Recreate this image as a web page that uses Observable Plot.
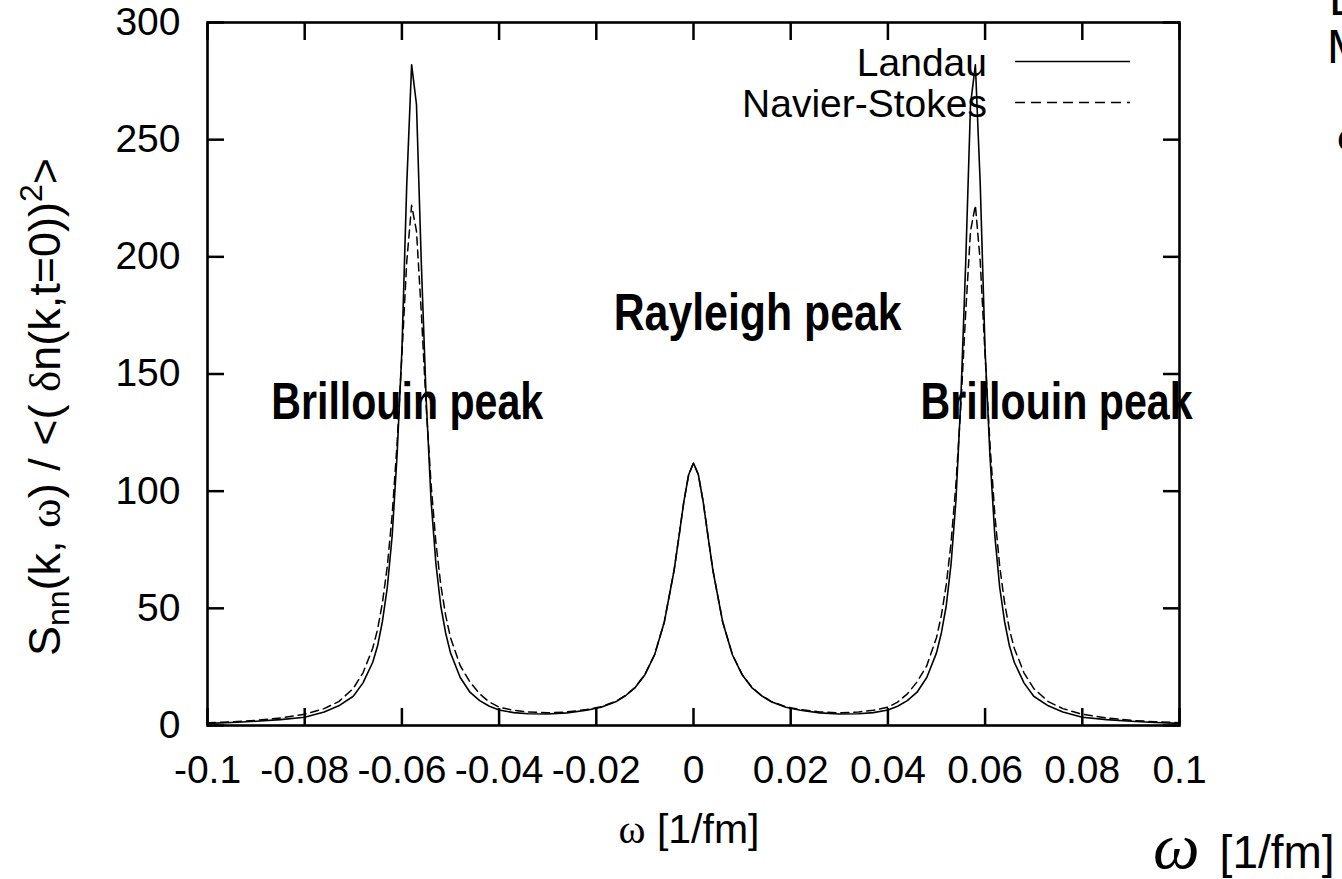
<!DOCTYPE html>
<html>
<head>
<meta charset="utf-8">
<script src="https://cdn.jsdelivr.net/npm/d3@7"></script>
<script src="https://cdn.jsdelivr.net/npm/@observablehq/plot@0.6"></script>
<style>
  html, body { margin: 0; padding: 0; background: #fff; }
  #chart { position: relative; width: 1342px; height: 879px; overflow: hidden; background: #fff; }
</style>
</head>
<body>
<div id="chart"></div>
<script>
// ω sample points [1/fm]
const omega = [
  -0.100, -0.095, -0.090, -0.085, -0.080, -0.076, -0.073, -0.070, -0.068, -0.066,
  -0.065, -0.064, -0.063, -0.062, -0.061, -0.060, -0.059, -0.058, -0.057, -0.056,
  -0.055, -0.054, -0.053, -0.052, -0.051, -0.050, -0.048, -0.046, -0.044, -0.042,
  -0.040, -0.037, -0.034, -0.030, -0.026, -0.022, -0.019, -0.016, -0.014, -0.012,
  -0.010, -0.008, -0.006, -0.004, -0.003, -0.002, -0.001, 0.000,
  0.001, 0.002, 0.003, 0.004, 0.006, 0.008, 0.010, 0.012, 0.014, 0.016,
  0.019, 0.022, 0.026, 0.030, 0.034, 0.037, 0.040, 0.042, 0.044, 0.046,
  0.048, 0.050, 0.051, 0.052, 0.053, 0.054, 0.055, 0.056, 0.057, 0.058,
  0.059, 0.060, 0.061, 0.062, 0.063, 0.064, 0.065, 0.066, 0.068, 0.070,
  0.073, 0.076, 0.080, 0.085, 0.090, 0.095, 0.100
];
// Landau (solid)
const landau = [
  0.9, 1.3, 1.8, 2.5, 3.5, 5.8, 8.4, 12.5, 18.2, 27,
  34, 44.5, 59, 81, 115, 160, 231, 282, 265, 197,
  139, 96, 69, 51, 39.5, 31, 20.5, 14.2, 10.6, 8.2,
  6.6, 5.5, 5.0, 4.9, 5.4, 6.5, 7.8, 10.1, 12.7, 16.2,
  21.7, 30.2, 44.2, 66.1, 80.5, 95.3, 107, 112,
  107, 95.3, 80.5, 66.1, 44.2, 30.2, 21.7, 16.2, 12.7, 10.1,
  7.8, 6.5, 5.4, 4.9, 5.0, 5.5, 6.6, 8.2, 10.6, 14.2,
  20.5, 31, 39.5, 51, 69, 96, 139, 197, 265, 282,
  231, 160, 115, 81, 59, 44.5, 34, 27, 18.2, 12.5,
  8.4, 5.8, 3.5, 2.5, 1.8, 1.3, 0.9
];
// Navier-Stokes (dashed)
const navierStokes = [
  1.2, 1.6, 2.2, 3.2, 4.8, 7.2, 10.2, 15.8, 22.5, 33,
  41, 52.5, 68, 90, 120, 158, 198, 222, 211, 176,
  136, 103, 78, 60, 47, 37.5, 25.5, 18.6, 13.5, 10.0,
  7.8, 6.5, 5.8, 5.4, 5.8, 6.8, 8.0, 10.3, 12.8, 16.3,
  21.8, 30.3, 44.3, 66.2, 80.6, 95.4, 107, 112,
  107, 95.4, 80.6, 66.2, 44.3, 30.3, 21.8, 16.3, 12.8, 10.3,
  8.0, 6.8, 5.8, 5.4, 5.8, 6.5, 7.8, 10.0, 13.5, 18.6,
  25.5, 37.5, 47, 60, 78, 103, 136, 176, 211, 222,
  198, 158, 120, 90, 68, 52.5, 41, 33, 22.5, 15.8,
  10.2, 7.2, 4.8, 3.2, 2.2, 1.6, 1.2
];
const xTicks = [-0.1, -0.08, -0.06, -0.04, -0.02, 0, 0.02, 0.04, 0.06, 0.08, 0.1];
const xTickLabels = ["-0.1", "-0.08", "-0.06", "-0.04", "-0.02", "0", "0.02", "0.04", "0.06", "0.08", "0.1"];
const yTicks = [0, 50, 100, 150, 200, 250, 300];
const yTickLabels = ["0", "50", "100", "150", "200", "250", "300"];
const seriesNames = ["Landau", "Navier-Stokes"];
const annotationLabels = ["Brillouin peak", "Rayleigh peak", "Brillouin peak"];
const annotationX = [-0.0589, 0.0132, 0.0747];
const annotationY = [138, 176, 138];
const annotationWidths = [272, 288, 272];

const sans = "'Liberation Sans', Arial, Helvetica, sans-serif";
const serif = "'Liberation Serif', 'DejaVu Serif', serif";

const landauData = omega.map((w, i) => ({w, v: landau[i]}));
const nsData = omega.map((w, i) => ({w, v: navierStokes[i]}));
const annotations = annotationLabels.map((label, i) => ({label, x: annotationX[i], y: annotationY[i]}));

const plot = Plot.plot({
  width: 1342,
  height: 879,
  marginLeft: 207,
  marginRight: 163,
  marginTop: 22,
  marginBottom: 154,
  style: {fontFamily: sans, fontSize: "39px", color: "#000", background: "#fff", overflow: "visible"},
  x: {domain: [-0.1, 0.1]},
  y: {domain: [0, 300]},
  marks: [
    Plot.line(nsData, {x: "w", y: "v", stroke: "#000", strokeWidth: 1.5, strokeDasharray: "8,5"}),
    Plot.line(landauData, {x: "w", y: "v", stroke: "#000", strokeWidth: 1.6}),
    Plot.axisX(xTicks, {anchor: "bottom", tickSize: 0, tickPadding: 30, tickFormat: d => xTickLabels[xTicks.indexOf(d)], label: null, fontSize: 39}),
    Plot.axisX(xTicks, {anchor: "bottom", tickSize: -17, tickFormat: () => "", label: null, strokeWidth: 2.5}),
    Plot.axisX(xTicks, {anchor: "top", tickSize: -17, tickFormat: () => "", label: null, strokeWidth: 2.5}),
    Plot.axisY(yTicks, {anchor: "left", tickSize: 0, tickPadding: 27, tickFormat: d => yTickLabels[yTicks.indexOf(d)], label: null, fontSize: 39}),
    Plot.axisY(yTicks, {anchor: "left", tickSize: -17, tickFormat: () => "", label: null, strokeWidth: 2.5}),
    Plot.axisY(yTicks, {anchor: "right", tickSize: -17, tickFormat: () => "", label: null, strokeWidth: 2.5}),
    Plot.frame({stroke: "#000", strokeWidth: 2.6}),
    Plot.text(annotations, {x: "x", y: "y", text: "label", fontFamily: sans, fontWeight: "bold", fontSize: 52, fill: "#000"})
  ]
});

document.getElementById("chart").appendChild(plot);

const svg = d3.select(plot);

// condense the annotation labels to the reference's narrow bold face
svg.selectAll('g[aria-label="text"] text').each(function(d, i) {
  d3.select(this).attr("textLength", annotationWidths[i]).attr("lengthAdjust", "spacingAndGlyphs");
});

// Legend
const legendRows = [{name: seriesNames[0], y: 61.5, dash: null}, {name: seriesNames[1], y: 102.5, dash: "10,6"}];
legendRows.forEach(r => {
  svg.append("text").attr("x", 987).attr("y", r.y + 14).attr("text-anchor", "end")
    .attr("font-family", sans).attr("font-size", 39).attr("fill", "#000").text(r.name);
  svg.append("line").attr("x1", 1015).attr("x2", 1130).attr("y1", r.y).attr("y2", r.y)
    .attr("stroke", "#000").attr("stroke-width", 1.5).attr("stroke-dasharray", r.dash);
});

// x axis label
const xl = svg.append("text").attr("x", 689).attr("y", 843).attr("text-anchor", "middle")
  .attr("font-family", sans).attr("font-size", 41).attr("fill", "#000");
xl.append("tspan").attr("font-family", serif).text("ω");
xl.append("tspan").text(" [1/fm]");

// y axis label
const yl = svg.append("text").attr("transform", "translate(60,407) rotate(-90)").attr("text-anchor", "middle")
  .attr("font-family", sans).attr("font-size", 45).attr("fill", "#000");
yl.append("tspan").text("S");
yl.append("tspan").attr("font-size", 32).attr("dy", 9).text("nn");
yl.append("tspan").attr("dy", -9).text("(k, ");
yl.append("tspan").attr("font-family", serif).text("ω");
yl.append("tspan").text(") / <( ");
yl.append("tspan").attr("font-family", serif).text("δ");
yl.append("tspan").text("n(k,t=0))");
yl.append("tspan").attr("font-size", 32).attr("dy", -18).text("2");
yl.append("tspan").attr("dy", 18).text(">");

// slide remnants at the right edge (cut off in the reference too)
svg.append("text").attr("x", 1329).attr("y", 15).attr("text-anchor", "start").attr("font-family", sans).attr("font-size", 48).attr("fill", "#000").text("L");
svg.append("text").attr("x", 1327).attr("y", 63).attr("text-anchor", "start").attr("font-family", sans).attr("font-size", 48).attr("fill", "#000").text("M");
svg.append("text").attr("x", 1337).attr("y", 150).attr("text-anchor", "start").attr("font-family", serif).attr("font-size", 44).attr("fill", "#000").text("ω");

// bottom-right ω [1/fm]
const br = svg.append("text").attr("x", 1153).attr("y", 868).attr("text-anchor", "start").attr("fill", "#000");
br.append("tspan").attr("font-family", serif).attr("font-style", "italic").attr("font-size", 66).text("ω");
br.append("tspan").attr("font-family", sans).attr("font-size", 46).attr("dx", 20).text("[1/fm]");
</script>
</body>
</html>
